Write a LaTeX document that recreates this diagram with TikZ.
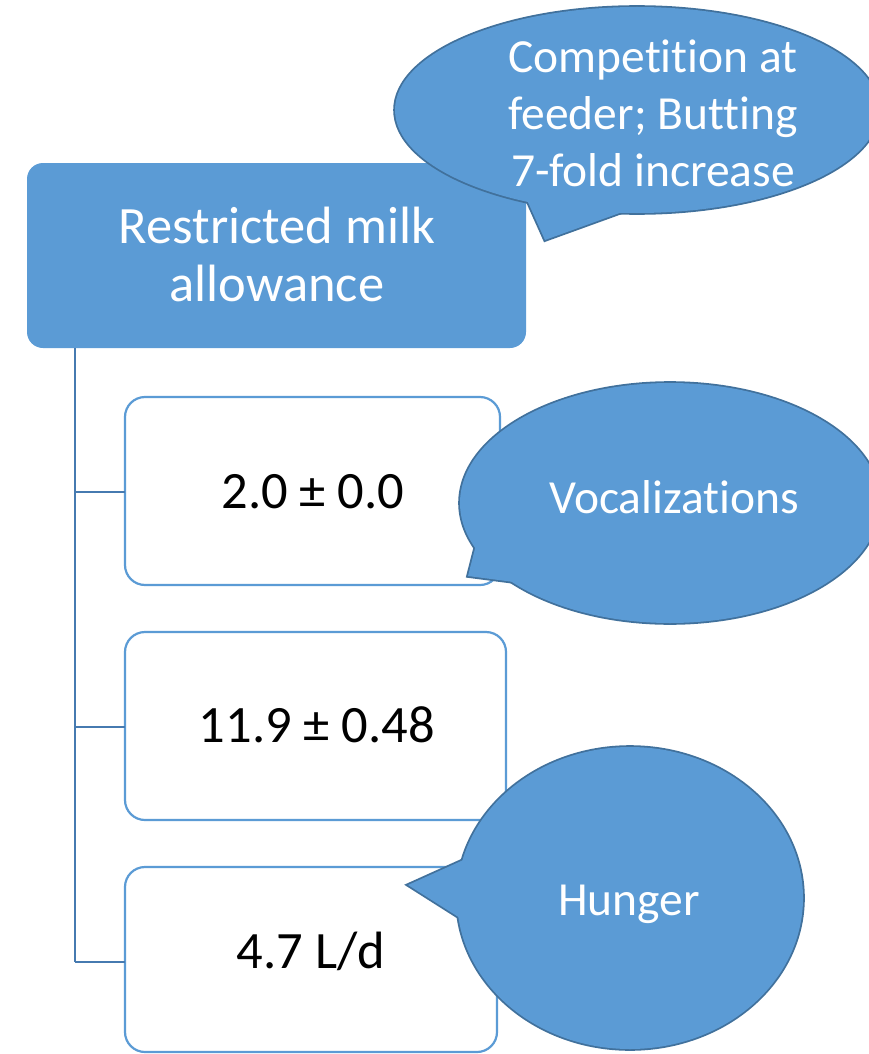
\documentclass[tikz,border=0pt]{standalone}
\usepackage{fontspec}
\setmainfont{Carlito}[Ligatures=NoCommon]
\usetikzlibrary{positioning}
\definecolor{accent}{RGB}{91,155,213}
\definecolor{accentdark}{RGB}{65,113,156}
\definecolor{linkblue}{RGB}{70,122,176}
\tikzset{
  headbox/.style={fill=accent, rounded corners=16pt},
  itembox/.style={draw=accent, line width=2.2pt, fill=white, rounded corners=20pt},
  link/.style={draw=linkblue, line width=2.6pt},
  bubble/.style={fill=accent, draw=accentdark, line width=3.6pt},
  bubblefill/.style={fill=accent},
  headtext/.style={text=white, align=center, font=\fontsize{52.5}{58}\selectfont},
  bubbletext/.style={text=white, align=center, font=\fontsize{47.5}{57}\selectfont},
  itemtext/.style={text=black, font=\fontsize{52.5}{58}\selectfont, anchor=base},
}
\begin{document}
\begin{tikzpicture}[x=1pt,y=-1pt]
\useasboundingbox (0,0) rectangle (869,1054);

% header box
\path[headbox] (27,163) rectangle (526,348);
\node[headtext] (head) at (277,254) {Restricted milk\\allowance};

% tree connectors
\coordinate (root) at (75,348);
\coordinate (j1) at (75,492);
\coordinate (j2) at (75,727);
\coordinate (j3) at (75,962);

% item boxes
\path[itembox] (125,397) rectangle (500,585);
\path[itembox] (125,632) rectangle (506,820);
\path[itembox] (125,867) rectangle (497,1052);
\coordinate (b1) at (125,492);
\coordinate (b2) at (125,727);
\coordinate (b3) at (125,962);
\draw[link] (root) -- (j3);
\draw[link] (j1) -- (b1);
\draw[link] (j2) -- (b2);
\draw[link] (j3) -- (b3);

\node[itemtext] (v1) at (313,508) {2.0 ± 0.0};
\node[itemtext] (v2) at (317,742) {11.9 ± 0.48};
\node[itemtext] (v3) at (311,968) {4.7 L/d};

% callout: competition
\draw[bubble] (637,110) ellipse [x radius=242, y radius=103];
\draw[bubble] (545,240) -- (518,180) -- (650,202) -- cycle;
\fill[bubblefill] (637,110) ellipse [x radius=242, y radius=103];
\fill[bubblefill] (545,240) -- (518,180) -- (650,202) -- cycle;
\node[bubbletext] (c1) at (653,113) {Competition at\\feeder; Butting\\7-fold increase};

% callout: vocalizations
\draw[bubble] (670,503) ellipse [x radius=210, y radius=120];
\draw[bubble] (468,576) -- (481,525) -- (560,588) -- cycle;
\fill[bubblefill] (670,503) ellipse [x radius=210, y radius=120];
\fill[bubblefill] (468,576) -- (481,525) -- (560,588) -- cycle;
\node[bubbletext, anchor=base] (c2) at (674,513) {Vocalizations};

% callout: hunger
\draw[bubble] (630,898) ellipse [x radius=173, y radius=151];
\draw[bubble] (408,885) -- (490,848) -- (490,937) -- cycle;
\fill[bubblefill] (630,898) ellipse [x radius=173, y radius=151];
\fill[bubblefill] (408,885) -- (490,848) -- (490,937) -- cycle;
\node[bubbletext, anchor=base] (c3) at (629,915) {Hunger};
\end{tikzpicture}
\end{document}
